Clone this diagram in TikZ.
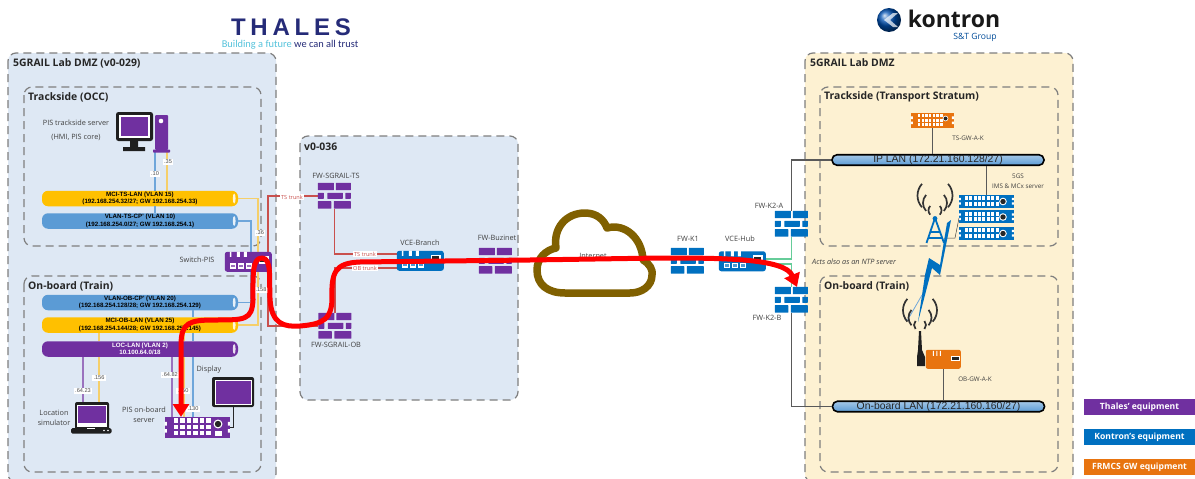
\documentclass[tikz,border=0pt]{standalone}
\usepackage{fontspec}
\setmainfont{Open Sans}
\newfontfamily\arl{Liberation Sans}
\newfontfamily\crl{Carlito}
\usetikzlibrary{arrows.meta,calc}
\definecolor{bgblue}{HTML}{DEE8F4}
\definecolor{bgyel}{HTML}{FDF1D2}
\definecolor{dashg}{HTML}{7F7F7F}
\definecolor{pur}{HTML}{7030A0}
\definecolor{kblue}{HTML}{0070C0}
\definecolor{org}{HTML}{E8740F}
\definecolor{ybar}{HTML}{FFC000}
\definecolor{bbar}{HTML}{5B9BD5}
\definecolor{lyel}{HTML}{F5CF6A}
\definecolor{lblu}{HTML}{6FA6DA}
\definecolor{lpur}{HTML}{9A72BE}
\definecolor{trunk}{HTML}{C9504D}
\definecolor{grn}{HTML}{66CC99}
\definecolor{navy}{HTML}{252B78}
\definecolor{teal}{HTML}{55C3DC}
\definecolor{cloudc}{HTML}{806000}
\definecolor{txtg}{HTML}{404040}
\definecolor{grl}{HTML}{595959}
\tikzset{
  zone/.style={draw=dashg,line width=1.2pt,dash pattern=on 8pt off 5pt,rounded corners=8pt},
  title/.style={font=\fontsize{10.4}{12}\selectfont\bfseries,text=black!85,anchor=west,inner sep=0pt},
  subt/.style={font=\fontsize{10.4}{12}\selectfont\bfseries,text=black!85,anchor=west,inner sep=0pt},
  lab/.style={font=\fontsize{7.3}{9}\selectfont,text=txtg,inner sep=0pt,align=center},
  ip/.style={font=\arl\fontsize{5.6}{7}\selectfont,text=black!70,fill=white,inner sep=1.3pt},
  bar/.style={rounded corners=6pt,minimum width=196pt,minimum height=15.5pt,inner sep=0pt,align=center,
     font=\arl\fontsize{6.2}{7.4}\selectfont\bfseries},
  lanbar/.style={draw=black,line width=1.6pt,rounded corners=5pt,top color=#1!55!white,bottom color=#1,
     minimum width=212pt,minimum height=10.5pt,inner sep=0pt,font=\arl\fontsize{10.4}{11}\selectfont,text=black!85},
  dev/.style={inner sep=0pt,minimum width=#1},
  ybl/.style={draw=lyel,line width=1.2pt},
  bbl/.style={draw=lblu,line width=1.2pt},
  pbl/.style={draw=lpur,line width=1.2pt},
  trl/.style={draw=trunk,line width=1.1pt},
  grl2/.style={draw=grl,line width=1.4pt},
  gnl/.style={draw=grn,line width=1.1pt},
  trk/.style={font=\fontsize{5.6}{7}\selectfont,text=trunk,fill=white,inner sep=0.8pt},
  legend/.style={minimum width=111pt,minimum height=16pt,inner sep=0pt,text=white,
     font=\fontsize{8.6}{10}\selectfont\bfseries},
  redp/.style={draw=red,line width=5pt,line cap=round,line join=round},
}
% firewall bricks inside a 33x26 node
\newcommand{\fwicon}[2]{\begin{scope}[shift={(#1.north west)}]
 \fill[#2,rounded corners=.4pt] (0,0) rectangle (16,7.3) (18,0) rectangle (33,7.3)
  (0,10) rectangle (6,16) (9.5,10) rectangle (25,16) (27.5,10) rectangle (33,16)
  (0,18.4) rectangle (13.5,25.8) (16,18.4) rectangle (33,25.8);
\end{scope}}
% switch body 47x20
\newcommand{\swicon}[2]{\begin{scope}[shift={(#1.north west)}]
 \fill[#2,rounded corners=2.5pt] (0,0) rectangle (47,20);
 \fill[white] (5,-.2) rectangle (6.5,5) (12,-.2) rectangle (15,5) (19,-.2) rectangle (22,5);
 \foreach \q in {5,13,21}{\fill[white] (\q,11.5) rectangle +(6.5,5.5); \fill[#2!70!white] (\q+1.5,13) rectangle +(3.5,2.5);}
 \fill[white] (34,4) rectangle (44,12); \fill[black!85] (35.5,5.5) rectangle (42.5,10.5);
\end{scope}}
% rack unit: node, w, h, colour, cols, rows, grid x, pitch, knob x
\newcommand{\rackicon}[9]{\begin{scope}[shift={(#1.north west)}]
 \fill[#4] (0,0) rectangle (#2,#3);
 \pgfmathsetmacro{\sq}{#8*.68}
 \pgfmathsetmacro{\rp}{(#3-2)/#6}
 \foreach \c in {1,...,#5}{\foreach \r in {1,...,#6}{
   \fill[white] ({#7+(\c-1)*#8},{1.6+(\r-1)*\rp}) rectangle +(\sq,{\rp*.68});}}
 \pgfmathsetmacro{\nt}{#3*.17}
 \fill[white] (-.1,{#3*.33-\nt/2}) rectangle (2,{#3*.33+\nt/2}) (-.1,{#3*.67-\nt/2}) rectangle (2,{#3*.67+\nt/2});
 \fill[white] ({#2-2},{#3*.33-\nt/2}) rectangle (#2+.1,{#3*.33+\nt/2}) ({#2-2},{#3*.67-\nt/2}) rectangle (#2+.1,{#3*.67+\nt/2});
\end{scope}}
\newcommand{\knob}[3]{\fill[white] (#1,#2) circle ({#3*1.4}); \fill[black!85] (#1,#2) circle (#3);}
\newcommand{\barend}[1]{\fill[white,opacity=.85] ([xshift=-4pt]#1.east) ellipse (1.4 and 5);}
\newcommand{\waves}[5]{% x y r1 r2 r3
 \foreach \rr in {#3,#4,#5}{
  \draw[black!80,line width=1.7pt] ({#1+\rr*cos(42)},{#2-\rr*sin(42)}) arc[start angle=42,end angle=-42,radius=\rr];
  \draw[black!80,line width=1.7pt] ({#1-\rr*cos(42)},{#2-\rr*sin(42)}) arc[start angle=138,end angle=222,radius=\rr];}}
\begin{document}
\begin{tikzpicture}[x=1pt,y=-1pt]
\useasboundingbox (0,0) rectangle (1195,479);
\fill[white] (0,0) rectangle (1195,479);
% zones
\draw[zone,fill=bgblue] (8,53) rectangle (276,482);
\draw[zone] (24,87) rectangle (261,246);
\draw[zone] (24,276) rectangle (261,472);
\draw[zone,fill=bgblue] (300,136) rectangle (518,400);
\draw[zone,fill=bgyel] (805,53) rectangle (1073,482);
\draw[zone] (820,87) rectangle (1058,246);
\draw[zone] (820,276) rectangle (1058,472);
\node[title] (t1) at (13,63) {5GRAIL Lab DMZ (v0-029)};
\node[subt] (t2) at (28,97) {Trackside (OCC)};
\node[subt] (t3) at (28,286) {On-board (Train)};
\node[title] (t4) at (304,147) {v0-036};
\node[title] (t5) at (810,63) {5GRAIL Lab DMZ};
\node[subt] (t6) at (824,97) {Trackside (Transport Stratum)};
\node[subt] (t7) at (824,286) {On-board (Train)};
% logos
\node[inner sep=0pt,text=navy,font=\arl\fontsize{24}{26}\selectfont\bfseries\addfontfeature{LetterSpace=20}] (thales) at (291,27.5) {THALES};
\node[inner sep=0pt,font=\crl\fontsize{10.4}{12}\selectfont] (thtag) at (290,44.5) {\textcolor{teal}{Building a future} \textcolor{navy}{we can all trust}};
\shade[ball color=blue!55!cyan!70!black] (889,20) circle (12);
\fill[white,opacity=.7] (884,20) -- (893,13) -- (898,13) -- (890,20) -- (898,27) -- (893,27) -- cycle;
\node[inner sep=0pt,font=\fontsize{23}{25}\selectfont\bfseries,text=black!90] (kontron) at (954,19) {kontron};
\node[inner sep=0pt,font=\fontsize{8.6}{10}\selectfont,text=blue!50!cyan!60!black] (stg) at (975,37) {S\&T Group};
% devices (frames)
\node[dev=54pt,minimum height=40pt] (pc) at (143,132) {};
\node[dev=47pt,minimum height=20pt] (sw) at (248.5,262) {};
\node[dev=41pt,minimum height=31pt] (laptop) at (91,417.5) {};
\node[dev=65pt,minimum height=21pt] (pisob) at (197.5,427.5) {};
\node[dev=42pt,minimum height=30pt] (disp) at (233,392) {};
\node[dev=33pt,minimum height=26pt] (fwts) at (334.5,196) {};
\node[dev=33pt,minimum height=26pt] (fwob) at (335,326) {};
\node[dev=47pt,minimum height=20pt] (vceb) at (420.5,261) {};
\node[dev=33pt,minimum height=26pt] (fwbz) at (495.5,261) {};
\node[dev=33pt,minimum height=26pt] (fwk1) at (687.5,261) {};
\node[dev=47pt,minimum height=20pt] (vceh) at (742.5,261.5) {};
\node[dev=33pt,minimum height=26pt] (fwa) at (791.5,224) {};
\node[dev=33pt,minimum height=26pt] (fwb) at (791.5,300) {};
\node[dev=43pt,minimum height=15pt] (tsgw) at (932.5,120.5) {};
\node[dev=55pt,minimum height=13pt] (s1) at (986.5,201.5) {};
\node[dev=55pt,minimum height=13pt] (s2) at (986.5,217) {};
\node[dev=55pt,minimum height=13pt] (s3) at (986.5,233.5) {};
\node[dev=35pt,minimum height=19pt] (obgw) at (943.5,359.5) {};
% bars
\node[bar,fill=ybar,text=black] (mcits) at (140,198.5) {MCI-TS-LAN (VLAN 15)\\(192.168.254.32/27; GW 192.168.254.33)};
\node[bar,fill=bbar,text=black] (vlants) at (140,221) {VLAN-TS-CP' (VLAN 10)\\(192.168.254.0/27; GW 192.168.254.1)};
\node[bar,fill=bbar,text=black] (vlanob) at (140,302.5) {VLAN-OB-CP' (VLAN 20)\\(192.168.254.128/28; GW 192.168.254.129)};
\node[bar,fill=ybar,text=black] (mciob) at (140,325) {MCI-OB-LAN (VLAN 25)\\(192.168.254.144/28; GW 192.168.254.145)};
\node[bar,fill=pur,text=white] (loclan) at (140,349) {LOC-LAN (VLAN 2)\\10.100.64.0/18};
\barend{mcits}\barend{vlants}\barend{vlanob}\barend{mciob}\barend{loclan}
% connectors
\draw[bbl] ([xshift=12pt]pc.south) -- ([xshift=12pt]pc.south |- mcits.north);
\draw[bbl] ([xshift=12pt]pc.south |- mcits.south) -- ([xshift=12pt]pc.south |- vlants.north);
\draw[ybl] ([xshift=24pt]pc.south) -- ([xshift=24pt]pc.south |- mcits.north);
\draw[ybl] (mcits.east) -| ([xshift=9.5pt]sw.north);
\draw[bbl] (vlants.east) -| ([xshift=2.5pt]sw.north);
\draw[trl] ([xshift=19.5pt]sw.north) |- (fwts.west);
\draw[trl] ([xshift=19.5pt]sw.south) |- (fwob.west);
\draw[bbl] (vlanob.east) -| ([xshift=2.5pt]sw.south);
\draw[ybl] (mciob.east) -| ([xshift=9.5pt]sw.south);
\draw[pbl] ([xshift=-8pt]laptop.north) -- ([xshift=-8pt]laptop.north |- loclan.south);
\draw[ybl] ([xshift=8pt]laptop.north) -- ([xshift=8pt]laptop.north |- loclan.south);
\draw[ybl] ([xshift=8pt]laptop.north |- loclan.north) -- ([xshift=8pt]laptop.north |- mciob.south);
\draw[pbl] ([xshift=-25.5pt]pisob.north) -- ([xshift=-25.5pt]pisob.north |- loclan.south);
\draw[ybl] ([xshift=-13.5pt]pisob.north) -- ([xshift=-13.5pt]pisob.north |- loclan.south);
\draw[ybl] ([xshift=-13.5pt]pisob.north |- loclan.north) -- ([xshift=-13.5pt]pisob.north |- mciob.south);
\draw[bbl] ([xshift=-4.5pt]pisob.north) -- ([xshift=-4.5pt]pisob.north |- loclan.south);
\draw[bbl] ([xshift=-4.5pt]pisob.north |- loclan.north) -- ([xshift=-4.5pt]pisob.north |- mciob.south);
\draw[bbl] ([xshift=-4.5pt]pisob.north |- mciob.north) -- ([xshift=-4.5pt]pisob.north |- vlanob.south);
\draw[black!85,line width=1pt] (disp.south) |- (pisob.east);
\draw[trl] (fwts.south) |- ([yshift=7pt]vceb.west);
\draw[trl] (fwob.north) |- ([yshift=-7pt]vceb.west);
\draw[gnl] ([yshift=2.5pt]vceh.east) -| (fwa.south);
\draw[gnl] ([yshift=-2.5pt]vceh.east) -| (fwb.north);
% LAN bars
\node[lanbar=bbar] (iplan) at (938,160) {IP LAN (172.21.160.128/27)};
\node[lanbar=bbar] (oblan) at (938.5,406.5) {On-board LAN (172.21.160.160/27)};
\draw[grl2] (fwa.north) |- (iplan.west);
\draw[grl2] (fwb.south) |- (oblan.west);
\draw[grl2] (tsgw.south) -- (tsgw.south |- iplan.north);
\draw[grl2] (s1.north) -- (s1.north |- iplan.south);
\draw[grl2] (obgw.south) -- (obgw.south |- oblan.north);
% ip labels
\node[ip] (ip1) at (155,174) {.10};
\node[ip] (ip2) at (168,162) {.35};
\node[ip] (ip3) at (260,233) {.36};
\node[ip] (ip4) at (261,290) {.158};
\node[ip] (ip5) at (83,391) {.64.23};
\node[ip] (ip6) at (99,378) {.156};
\node[ip] (ip7) at (170,375) {.64.82};
\node[ip] (ip8) at (183,391) {.150};
\node[ip] (ip9) at (193,409) {.130};
\node[trk] (tr1) at (292,197) {TS trunk};
\node[trk] (tr2) at (365,254) {TS trunk};
\node[trk] (tr3) at (365,268) {OB trunk};
% icons
\fill[black!88,rounded corners=2.5pt] (116,112) rectangle (153,141);
\fill[white] (119,115) rectangle (150,138);
\fill[pur] (120.5,117) rectangle (147.5,136);
\fill[black!88] (130,141) rectangle (138,147) (123,147) rectangle (145,151);
\fill[pur,rounded corners=1pt] (155,115) rectangle (168,150);
\fill[pur,rounded corners=.6pt] (153,149.5) rectangle (170,152.5);
\fill[white] (161,121) circle (2.3);
\swicon{sw}{pur}
\swicon{vceb}{kblue}
\swicon{vceh}{kblue}
\fwicon{fwts}{pur}\fwicon{fwob}{pur}\fwicon{fwbz}{pur}
\fwicon{fwk1}{kblue}\fwicon{fwa}{kblue}\fwicon{fwb}{kblue}
\rackicon{pisob}{65}{21}{pur}{6}{3}{9}{6.5}{53}
\knob{218}{424}{3.2}
\fill[white] (215,431) rectangle (222,436);
\rackicon{tsgw}{43}{15}{org}{7}{3}{7}{3.7}{34}
\knob{945.5}{118.5}{2}
\rackicon{s1}{55}{13}{kblue}{8}{2}{6}{4.4}{44}
\rackicon{s2}{55}{13}{kblue}{8}{2}{6}{4.4}{44}
\rackicon{s3}{55}{13}{kblue}{8}{2}{6}{4.4}{44}
\knob{1003}{201.5}{2.7}\knob{1003}{217}{2.7}\knob{1003}{233.5}{2.7}
\fill[black!88,rounded corners=2pt] (212,377) rectangle (254,407);
\fill[white] (214.5,379.5) rectangle (251.5,404.5);
\fill[pur] (215.5,380.5) rectangle (250.5,403.5);
\fill[black!88,rounded corners=2pt] (75,402) rectangle (109,430);
\fill[white] (77,405) rectangle (107,427);
\fill[pur] (78,406) rectangle (106,423);
\fill[black!88,rounded corners=1.5pt] (71,428) rectangle (111.5,433.5);
\fill[white] (87,428) rectangle (95,429.2);
\fill[white] (104,430.5) circle (.9) (108,430.5) circle (.9);
% OB gateway box
\begin{scope}[shift={(obgw.north west)}]
 \fill[org,rounded corners=2pt] (0,0) rectangle (35,19);
 \fill[white] (7,1) rectangle (8,6) (10.5,1) rectangle (11.5,6) (14,1) rectangle (15,6);
 \fill[white] (25,6) rectangle (34,11); \fill[black!85] (26,7) rectangle (33,10);
\end{scope}
% antennas
\waves{935}{219}{6.5}{12}{17.5}
\draw[kblue,line width=1.8pt] (935,218) -- (926.5,243) (935,218) -- (944,243) (930.5,232) -- (939.5,232) (928.5,238) -- (941.5,238);
\fill[kblue] (935,218.5) circle (2.4);
\draw[black!75,line width=.5pt] (944,238) -- (955,238) -- (959,218);
\fill[kblue] (951,220) -- (940,275) -- (932,268) -- (918,322) -- (925,275) -- (929,258) -- (940,265) -- (947,223) -- cycle;
\draw[lblu,line width=.8pt] (907,321) -- (922,295);
\waves{920}{333}{6}{11.5}{17}
\fill[black!88] (919,331) -- (921,331) -- (922,350) -- (925,357) -- (925,366) -- (917,366) -- (917,357) -- (918,350) -- cycle;
% cloud
\draw[cloudc,line width=7.5pt,fill=white,line join=round] (565,293) .. controls (548,293) and (537,285) .. (537,270)
 .. controls (537,258) and (546,250) .. (556,248) .. controls (553,228) and (566,213) .. (585,213)
 .. controls (597,213) and (604,220) .. (607,228) .. controls (625,223) and (642,238) .. (643,260)
 .. controls (650,264) and (653,270) .. (652,275) .. controls (652,286) and (642,293) .. (630,293) -- cycle;
\node[lab] (inet) at (593,256) {Internet};
% device labels
\node[lab,align=center,font=\fontsize{7.3}{14}\selectfont] (l1) at (76,130) {PIS trackside server\\(HMI, PIS core)};
\node[lab] (l2) at (197,260) {Switch-PIS};
\node[lab,font=\fontsize{7.3}{10.3}\selectfont] (l3) at (54,418) {Location\\simulator};
\node[lab,font=\fontsize{7.3}{10.3}\selectfont] (l4) at (144,415) {PIS on-board\\server};
\node[lab] (l5) at (209,370) {Display};
\node[lab] (l6) at (336,176) {FW-SGRAIL-TS};
\node[lab] (l7) at (336,345) {FW-SGRAIL-OB};
\node[lab] (l8) at (420,243) {VCE-Branch};
\node[lab] (l9) at (497,238) {FW-Buzinet};
\node[lab] (l10) at (688,239) {FW-K1};
\node[lab] (l11) at (740,239) {VCE-Hub};
\node[lab] (l12) at (769,206) {FW-K2-A};
\node[lab] (l13) at (767,318) {FW-K2-B};
\node[lab,font=\fontsize{6.3}{8}\selectfont] (l14) at (968,138) {TS-GW-A-K};
\node[lab,font=\fontsize{6.3}{9.5}\selectfont] (l15) at (1018,181) {5GS\\IMS \& MCx server};
\node[lab,font=\fontsize{6.3}{8}\selectfont] (l16) at (975,379) {OB-GW-A-K};
\node[lab,font=\fontsize{7.3}{9}\selectfont\itshape,anchor=west] (l17) at (812,262) {Acts also as an NTP server};
% red path
\coordinate (ra) at (181,417);
\coordinate (rb) at (797,287);
\draw[redp,{Triangle[width=16pt,length=13pt]}-{Triangle[width=16pt,length=13pt]}] (ra) -- (181,345)
 .. controls (181,322) and (190,320) .. (215,320)
 .. controls (245,320) and (252,320) .. (253,300)
 .. controls (253,275) and (252,258) .. (262,258)
 .. controls (272,258) and (269,280) .. (270,298)
 .. controls (271,325) and (285,327) .. (300,326)
 .. controls (325,324) and (331,318) .. (332,300)
 .. controls (331,272) and (335,263) .. (360,262)
 -- (530,260) -- (660,258)
 .. controls (720,258) and (785,258) .. (rb);
% legend
\node[legend,fill=pur] (lg1) at (1139.5,407) {Thales' equipment};
\node[legend,fill=kblue] (lg2) at (1139.5,437) {Kontron's equipment};
\node[legend,fill=org] (lg3) at (1139.5,467) {FRMCS GW equipment};
\end{tikzpicture}
\end{document}
